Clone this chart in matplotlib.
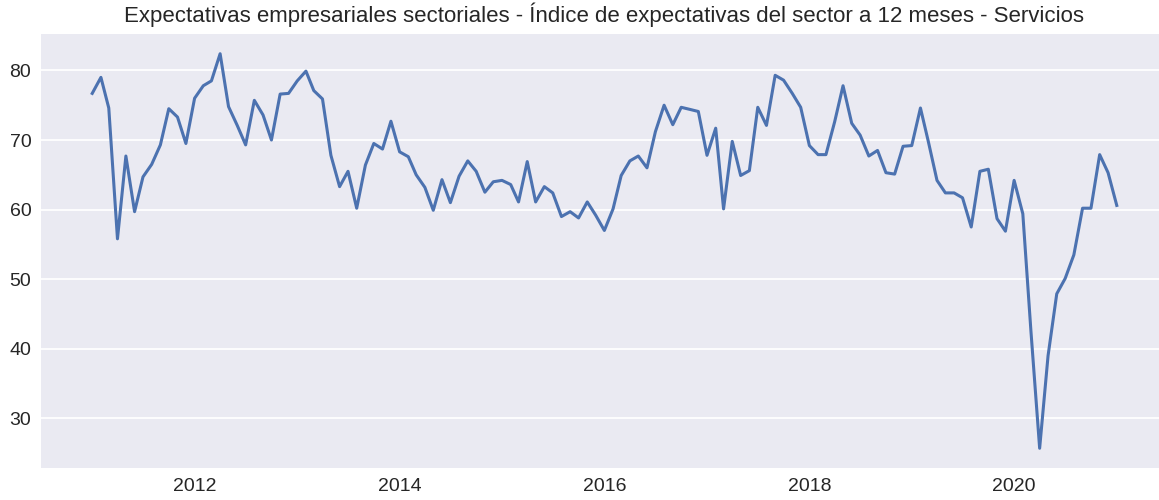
import pandas as pd
import matplotlib
matplotlib.use("Agg")
import matplotlib.pyplot as plt
import matplotlib.dates as mdates

# monthly index, Jan 2011 .. Jan 2021
start_month = "2011-01-01"
values = [
    76.7, 79.0, 74.6, 55.8, 67.7, 59.7, 64.7, 66.5, 69.3, 74.5, 73.3, 69.5,
    76.0, 77.8, 78.5, 82.4, 74.8, 72.1, 69.3, 75.7, 73.6, 70.0, 76.6, 76.7,
    78.5, 79.9, 77.1, 75.9, 67.8, 63.3, 65.5, 60.2, 66.4, 69.5, 68.7, 72.7,
    68.3, 67.6, 65.0, 63.2, 59.9, 64.3, 61.0, 64.8, 67.0, 65.5, 62.5, 64.0,
    64.2, 63.6, 61.1, 66.9, 61.1, 63.3, 62.4, 59.0, 59.7, 58.8, 61.1, 59.2,
    57.0, 60.1, 64.9, 67.0, 67.7, 66.0, 71.2, 75.0, 72.2, 74.7, 74.4, 74.1,
    67.8, 71.7, 60.1, 69.8, 64.9, 65.6, 74.7, 72.1, 79.3, 78.6, 76.7, 74.7,
    69.2, 67.9, 67.9, 72.6, 77.8, 72.4, 70.7, 67.7, 68.5, 65.3, 65.1, 69.1,
    69.2, 74.6, 69.8, 64.2, 62.4, 62.4, 61.7, 57.5, 65.5, 65.8, 58.7, 56.9,
    64.2, 59.4, 42.5, 25.7, 39.0, 47.9, 50.1, 53.5, 60.2, 60.2, 67.9, 65.3,
    60.6,
]
title = "Expectativas empresariales sectoriales - Índice de expectativas del sector a 12 meses - Servicios"

dates = pd.date_range(start_month, periods=len(values), freq="MS")

plt.rcParams["font.family"] = ["Liberation Sans", "DejaVu Sans"]

fig = plt.figure(figsize=(11.59, 5.0), dpi=100)
# axes runs a little past the right edge, as in the reference
ax = fig.add_axes([41 / 1159, 32 / 500, 1127 / 1159, 434 / 500])
ax.set_facecolor("#EAEAF2")

ax.plot(dates, values, color="#4C72B0", linewidth=2.2)

ax.xaxis.set_major_locator(mdates.YearLocator(2))
ax.xaxis.set_major_formatter(mdates.DateFormatter("%Y"))
ax.set_yticks([30, 40, 50, 60, 70, 80])

ax.grid(axis="y", color="white", linewidth=1.3)
ax.set_axisbelow(True)
for s in ax.spines.values():
    s.set_visible(False)
ax.tick_params(length=0, labelsize=14, colors="#262626", pad=7)

ax.set_title(title, fontsize=16, color="#262626", pad=9)

fig.savefig("out.png", dpi=100)
